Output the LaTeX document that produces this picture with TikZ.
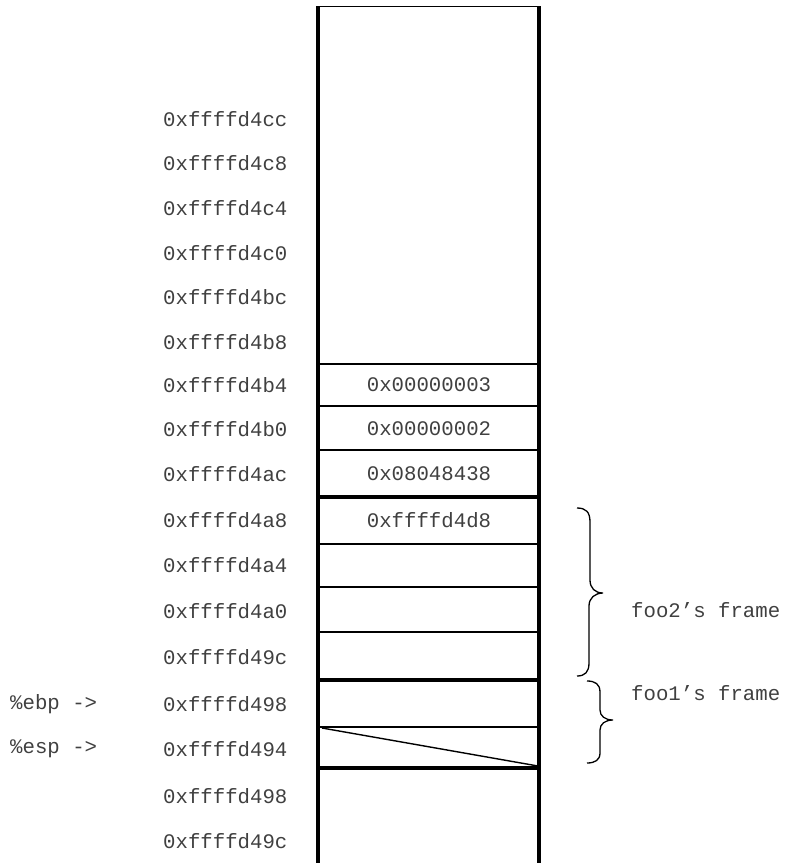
\documentclass[tikz,border=0pt]{standalone}
\usepackage{fontspec}
\newfontfamily\monofont{Liberation Mono}
\begin{document}
\begin{tikzpicture}[x=1pt,y=-1pt,
  lbl/.style={font=\monofont\fontsize{20.7}{22}\selectfont, text=black!75, inner sep=0pt},
  addr/.style={lbl, anchor=west},
  val/.style={lbl, anchor=center},
  thick line/.style={line width=3.4pt},
  thin line/.style={line width=1.7pt},
  bracepath/.style={line width=1.3pt}]
\useasboundingbox (0,0) rectangle (787,863);
% column
\draw[line width=1.3pt] (316,6.5) -- (541,6.5);
\draw[line width=3.8pt] (318,6) -- (318,863);
\draw[line width=3.6pt] (539,6) -- (539,863);
% row separators
\foreach \yy in {364,406,450,544,587,632,727}
  \draw[thin line] (318,\yy) -- (539,\yy);
\foreach \yy in {497,680,768}
  \draw[thick line] (318,\yy) -- (539,\yy);
\draw[line width=1.4pt] (322,728) -- (538,766);
% addresses
\node[addr] (a1) at (163,119) {0xffffd4cc};
\node[addr] (a2) at (163,163) {0xffffd4c8};
\node[addr] (a3) at (163,208) {0xffffd4c4};
\node[addr] (a4) at (163,253) {0xffffd4c0};
\node[addr] (a5) at (163,297) {0xffffd4bc};
\node[addr] (a6) at (163,342) {0xffffd4b8};
\node[addr] (a7) at (163,385) {0xffffd4b4};
\node[addr] (a8) at (163,429) {0xffffd4b0};
\node[addr] (a9) at (163,474) {0xffffd4ac};
\node[addr] (a10) at (163,520) {0xffffd4a8};
\node[addr] (a11) at (163,565) {0xffffd4a4};
\node[addr] (a12) at (163,611) {0xffffd4a0};
\node[addr] (a13) at (163,657) {0xffffd49c};
\node[addr] (a14) at (163,704) {0xffffd498};
\node[addr] (a15) at (163,749) {0xffffd494};
\node[addr] (a16) at (163,796) {0xffffd498};
\node[addr] (a17) at (163,841) {0xffffd49c};
% register pointers
\node[addr] (ebp) at (10,704) {\%ebp ->};
\node[addr] (esp) at (10,749) {\%esp ->};
% values
\node[val] (v1) at (429,385) {0x00000003};
\node[val] (v2) at (429,429) {0x00000002};
\node[val] (v3) at (429,474) {0x08048438};
\node[val] (v4) at (429,520) {0xffffd4d8};
% braces
\draw[bracepath] (577,508) .. controls (586,508) and (590,512) .. (590,522) -- (590,580)
  .. controls (590,588) and (595,593) .. (603,593)
  .. controls (595,593) and (589,598) .. (589,606) -- (589,663)
  .. controls (589,672) and (585,676) .. (577,676);
\draw[bracepath] (587,681) .. controls (595,681) and (600,684) .. (600,692) -- (600,710)
  .. controls (600,716) and (605,720) .. (613,720)
  .. controls (605,720) and (600,724) .. (600,730) -- (600,753)
  .. controls (600,760) and (595,763) .. (587,763);
\node[addr] (f2) at (631,610) {foo2’s frame};
\node[addr] (f1) at (631,693) {foo1’s frame};
\end{tikzpicture}
\end{document}
